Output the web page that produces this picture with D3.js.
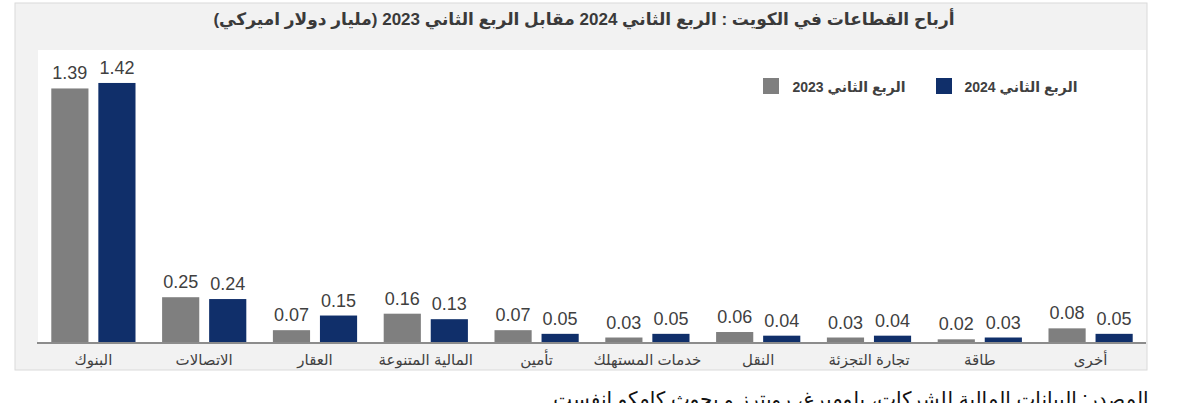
<!DOCTYPE html>
<html lang="ar">
<head>
<meta charset="utf-8">
<script src="https://cdn.jsdelivr.net/npm/d3@7"></script>
<style>
  html, body { margin: 0; padding: 0; background: #ffffff; overflow: hidden; }
  svg { display: block; font-family: Arial, "Liberation Sans", "DejaVu Sans", sans-serif; }
</style>
</head>
<body>
<svg width="1177" height="403"></svg>
<script>
// القطاعات والقيم (مليار دولار)
const categories = ["البنوك", "الاتصالات", "العقار", "المالية المتنوعة", "تأمين",
                    "خدمات المستهلك", "النقل", "تجارة التجزئة", "طاقة", "أخرى"];
const q2_2023 = [1.39, 0.25, 0.07, 0.16, 0.07, 0.03, 0.06, 0.03, 0.02, 0.08];
const q2_2024 = [1.42, 0.24, 0.15, 0.13, 0.05, 0.05, 0.04, 0.04, 0.03, 0.05];
const seriesNames = ["الربع الثاني 2023", "الربع الثاني 2024"];
const seriesColors = ["#7f7f7f", "#102f6a"];
const yDomain = [0, 1.6];

const title = "أرباح القطاعات في الكويت : الربع الثاني 2024 مقابل الربع الثاني 2023 (مليار دولار اميركي)";
const source = "المصدر: البيانات المالية للشركات، بلومبرغ، رويترز و بحوث كامكو إنفست";

function drawChart() {
    let svg = d3.select("svg");

    // рамка и области
    const frame = { x: 15, y: 3, w: 1132, h: 367 };
    const area = { left: 38, right: 1146, top: 50, bottom: 343 };

    svg.append("rect")
        .attr("x", frame.x).attr("y", frame.y)
        .attr("width", frame.w).attr("height", frame.h)
        .style("fill", "#f2f2f2")
        .style("stroke", "#dadada");

    svg.append("rect")
        .attr("x", area.left).attr("y", area.top)
        .attr("width", area.right - area.left).attr("height", area.bottom - area.top)
        .style("fill", "#ffffff");

    // заголовок
    svg.append("text")
        .attr("x", frame.x + frame.w / 2 + 3)
        .attr("y", 25)
        .attr("direction", "rtl")
        .attr("text-anchor", "middle")
        .style("font-size", "17px")
        .style("font-weight", "bold")
        .style("fill", "#3a3a3a")
        .text(title);

    // шкалы
    let scaleX = d3.scaleBand()
        .domain(categories)
        .range([area.left, area.right])
        .paddingInner(0.24)
        .paddingOuter(0.12);

    let scaleSub = d3.scaleBand()
        .domain([0, 1])
        .range([0, scaleX.bandwidth()])
        .paddingInner(0.21);

    let scaleY = d3.scaleLinear()
        .domain(yDomain)
        .range([area.bottom, area.top]);

    const series = [q2_2023, q2_2024];

    series.forEach((values, s) => {
        let g = svg.append("g");
        g.selectAll("rect")
            .data(values)
            .enter()
            .append("rect")
            .attr("x", (d, i) => scaleX(categories[i]) + scaleSub(s))
            .attr("y", d => scaleY(d))
            .attr("width", scaleSub.bandwidth())
            .attr("height", d => scaleY(0) - scaleY(d))
            .style("fill", seriesColors[s]);

        g.selectAll("text")
            .data(values)
            .enter()
            .append("text")
            .attr("x", (d, i) => scaleX(categories[i]) + scaleSub(s) + scaleSub.bandwidth() / 2)
            .attr("y", d => scaleY(d) - 9)
            .attr("text-anchor", "middle")
            .style("font-size", "18px")
            .style("fill", "#404040")
            .text(d => d.toFixed(2));
    });

    // ось X
    let axisX = d3.axisBottom(scaleX).tickSize(0).tickPadding(11);
    let gx = svg.append("g")
        .attr("transform", `translate(0, ${area.bottom})`)
        .call(axisX);
    gx.select(".domain")
        .attr("d", `M${area.left - 1},0H${area.right}`)
        .style("stroke", "#8c8c8c")
        .style("stroke-width", 2);
    gx.selectAll("text")
        .attr("direction", "rtl")
        .style("font-family", "Arial, 'Liberation Sans', 'DejaVu Sans', sans-serif")
        .style("font-size", "15px")
        .style("fill", "#404040");

    // легенда
    const legend = [{ x: 763, cx: 849 }, { x: 936, cx: 1021 }];
    seriesNames.forEach((name, s) => {
        svg.append("rect")
            .attr("x", legend[s].x).attr("y", 78)
            .attr("width", 16).attr("height", 16)
            .style("fill", seriesColors[s]);
        svg.append("text")
            .attr("x", legend[s].cx)
            .attr("y", 92)
            .attr("direction", "rtl")
            .attr("text-anchor", "middle")
            .style("font-size", "14px")
            .style("font-weight", "bold")
            .style("fill", "#404040")
            .text(name);
    });

    // источник (в оригинале обрезан снизу)
    svg.append("text")
        .attr("x", 851)
        .attr("y", 406)
        .attr("direction", "rtl")
        .attr("text-anchor", "middle")
        .style("font-size", "20px")
        .style("fill", "#111111")
        .text(source);
}

drawChart();
</script>
</body>
</html>
